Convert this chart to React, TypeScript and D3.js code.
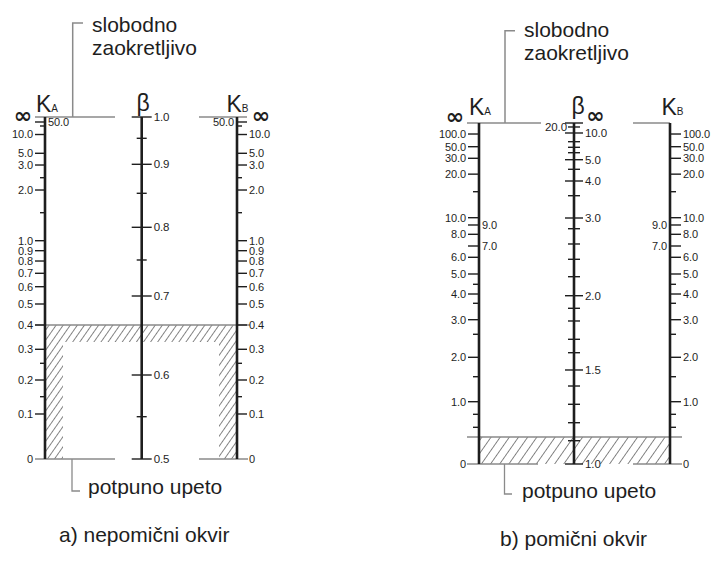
import React from 'react';
import * as d3 from 'd3';

// ---------- Panel a) nepomični okvir (braced) ----------
// K scale: tick values, labels ('' = unlabeled minor tick)
const K_A_VALUES = [0, 0.1, 0.15, 0.2, 0.25, 0.3, 0.4, 0.5, 0.6, 0.7, 0.8, 0.9, 1.0, 1.5, 2.0, 2.5, 3.0, 5.0, 10.0, 20.0, 50.0];
const K_A_LABELS = ['0', '0.1', '', '0.2', '', '0.3', '0.4', '0.5', '0.6', '0.7', '0.8', '0.9', '1.0', '', '2.0', '', '3.0', '5.0', '10.0', '', '50.0'];
// calibration of the nonlinear nomograph scale (fraction of axis length)
const K_A_CAL = [0, 0.1316, 0.1822, 0.231, 0.2798, 0.3208, 0.3918, 0.4532, 0.5038, 0.543, 0.5789, 0.6091, 0.6383, 0.7202, 0.7865, 0.8225, 0.8596, 0.8939, 0.9488, 0.9737, 0.9854];
const K_A_INNER_LABELS = ['50.0'];
const K_A_HATCH_LIMIT = 0.4;

const BETA_A_VALUES = [0.5, 0.55, 0.6, 0.7, 0.75, 0.8, 0.85, 0.9, 0.95, 1.0];
const BETA_A_LABELS = ['0.5', '', '0.6', '0.7', '', '0.8', '', '0.9', '', '1.0'];
const BETA_A_CAL = [0, 0.1237, 0.2456, 0.4766, 0.5819, 0.6775, 0.7769, 0.8617, 0.9377, 1];

// ---------- Panel b) pomični okvir (sway) ----------
const K_B_VALUES = [0, 0.4, 0.5, 0.75, 1.0, 1.5, 2.0, 2.5, 3.0, 3.5, 4.0, 4.5, 5.0, 6.0, 7.0, 8.0, 9.0, 10.0, 15.0, 20.0, 30.0, 50.0, 100.0];
const K_B_LABELS = ['0', 'x', '', '', '1.0', '', '2.0', '', '3.0', '', '4.0', '', '5.0', '6.0', '7.0', '8.0', '9.0', '10.0', '', '20.0', '30.0', '50.0', '100.0'];
const K_B_CAL = [0, 0.0792, 0.1076, 0.1457, 0.1827, 0.256, 0.3129, 0.3804, 0.4232, 0.4713, 0.4985, 0.527, 0.5572, 0.6062, 0.6393, 0.6736, 0.7009, 0.7223, 0.7985, 0.85, 0.8965, 0.9305, 0.9677];
const K_B_INNER_LABELS = ['9.0', '7.0'];
const K_B_HATCH_LIMIT = 0.4;

const BETA_B_VALUES = [1.0, 1.1, 1.2, 1.3, 1.4, 1.5, 1.6, 1.7, 1.8, 1.9, 2.0, 2.2, 2.4, 2.6, 2.8, 3.0, 3.5, 4.0, 4.5, 5.0, 6.0, 7.0, 8.0, 10.0, 20.0];
const BETA_B_LABELS = ['1.0', '', '', '', '', '1.5', '', '', '', '', '2.0', '', '', '', '', '3.0', '', '4.0', '', '5.0', '', '', '', '10.0', '20.0'];
const BETA_B_CAL = [0, 0.0683, 0.1211, 0.1751, 0.2287, 0.2757, 0.3264, 0.3657, 0.4194, 0.4566, 0.4935, 0.5493, 0.6003, 0.6452, 0.69, 0.7214, 0.7868, 0.8299, 0.8642, 0.8924, 0.9129, 0.9287, 0.9452, 0.9707, 0.9883];
const BETA_B_INNER_LABELS = ['20.0'];

const TEXT_TOP = ['slobodno', 'zaokretljivo'];
const TEXT_BOTTOM = 'potpuno upeto';
const CAPTIONS = ['a) nepomični okvir', 'b) pomični okvir'];

const FONT = '"Liberation Sans", Arial, Helvetica, sans-serif';
const DARK = '#1e1e1e';
const GRAY = '#8a8a8a';
const TICK_FS = 11;

function makeScale(values: number[], cal: number[], yBot: number, yTop: number) {
  const frac = d3.scaleLinear().domain(values).range(cal);
  const pos = d3.scaleLinear().domain([0, 1]).range([yBot, yTop]);
  return (v: number) => pos(frac(v));
}

type KAxisProps = {
  x: number; side: 'left' | 'right'; values: number[]; labels: string[];
  y: (v: number) => number; inner: string[]; majorLen: number; minorLen: number;
};

function KAxis({ x, side, values, labels, y, inner, majorLen, minorLen }: KAxisProps) {
  const dir = side === 'left' ? -1 : 1;
  return (
    <g>
      {values.map((v, i) => {
        const lab = labels[i];
        if (lab === 'x') return null;
        const yy = y(v);
        const len = lab ? majorLen : minorLen;
        const isInner = inner.includes(lab);
        const lx = isInner ? x - dir * 3 : x + dir * (majorLen + 2);
        const anchor = (side === 'left') !== isInner ? 'end' : 'start';
        return (
          <g key={i}>
            {v !== 0 && <line x1={x} x2={x + dir * len} y1={yy} y2={yy} stroke={DARK} strokeWidth={1.4} />}
            {lab && (
              <text x={lx} y={yy} dy="0.36em" fontSize={TICK_FS} textAnchor={anchor} fill={DARK} fontFamily={FONT} letterSpacing={-0.1}>
                {lab}
              </text>
            )}
          </g>
        );
      })}
    </g>
  );
}

type BAxisProps = { x: number; values: number[]; labels: string[]; y: (v: number) => number; inner: string[]; majorLen: number; minorLen: number };
function BetaAxis({ x, values, labels, y, inner, majorLen, minorLen }: BAxisProps) {
  return (
    <g>
      {values.map((v, i) => {
        const lab = labels[i];
        const yy = y(v);
        const isInner = inner.includes(lab);
        const len = lab && !isInner ? majorLen : minorLen;
        return (
          <g key={i}>
            <line x1={x - len} x2={x + len} y1={yy} y2={yy} stroke={DARK} strokeWidth={1.4} />
            {lab && (
              <text x={isInner ? x - minorLen - 1 : x + majorLen + 2} y={yy} dy="0.36em" fontSize={TICK_FS + 0.5}
                textAnchor={isInner ? 'end' : 'start'} fill={DARK} fontFamily={FONT} letterSpacing={-0.1}>
                {lab}
              </text>
            )}
          </g>
        );
      })}
    </g>
  );
}

function Title({ x, y, main, sub }: { x: number; y: number; main: string; sub?: string }) {
  return (
    <text x={x} y={y} fontSize={23} fill={DARK} fontFamily={FONT}>
      {main}
      {sub && <tspan fontSize={10}>{sub}</tspan>}
    </text>
  );
}

function Inf({ x, y }: { x: number; y: number }) {
  return (
    <text x={x} y={y} fontSize={22} fontWeight="bold" textAnchor="middle" dy="0.32em" fill={DARK} fontFamily={'"DejaVu Sans", sans-serif'}>
      ∞
    </text>
  );
}

function PanelA() {
  const xKA = 45, xB = 141.7, xKB = 237, yTop = 117, yBot = 459;
  const yK = makeScale(K_A_VALUES, K_A_CAL, yBot, yTop);
  const yBeta = makeScale(BETA_A_VALUES, BETA_A_CAL, yBot, yTop);
  const yH = yK(K_A_HATCH_LIMIT);
  const band = 17, strip = 18;
  const hatchPath = `M${xKA},${yH}H${xKB}V${yBot}H${xKB - strip}V${yH + band}H${xKA + strip}V${yBot}H${xKA}Z`;
  return (
    <g>
      <path d={hatchPath} fill="url(#hatchA)" />
      {/* reference lines */}
      <line x1={xKA - 10} x2={xKA + 70} y1={yTop} y2={yTop} stroke={GRAY} strokeWidth={1.5} />
      <line x1={xKB - 38} x2={xKB + 10} y1={yTop} y2={yTop} stroke={GRAY} strokeWidth={1.5} />
      <line x1={xKA - 10} x2={xKA + 70} y1={yBot} y2={yBot} stroke={GRAY} strokeWidth={1.5} />
      <line x1={xKB - 38} x2={xKB + 11} y1={yBot} y2={yBot} stroke={GRAY} strokeWidth={1.5} />
      <line x1={xKA - 10} x2={xKB + 13} y1={yH} y2={yH} stroke={GRAY} strokeWidth={1.3} />
      {/* axes */}
      {[xKA, xB, xKB].map((x) => (
        <line key={x} x1={x} x2={x} y1={yTop} y2={yBot} stroke={DARK} strokeWidth={2.6} />
      ))}
      <KAxis x={xKA} side="left" values={K_A_VALUES} labels={K_A_LABELS} y={yK} inner={K_A_INNER_LABELS} majorLen={10} minorLen={5} />
      <KAxis x={xKB} side="right" values={K_A_VALUES} labels={K_A_LABELS} y={yK} inner={K_A_INNER_LABELS} majorLen={10} minorLen={5} />
      <BetaAxis x={xB} values={BETA_A_VALUES} labels={BETA_A_LABELS} y={yBeta} inner={[]} majorLen={10} minorLen={5} />
      <Title x={36} y={111.5} main="K" sub="A" />
      <Title x={136.5} y={111} main="β" />
      <Title x={226.5} y={111.5} main="K" sub="B" />
      <Inf x={23} y={116} />
      <Inf x={261} y={116} />
      {/* leaders */}
      <polyline points={`72.7,${yTop} 72.7,23 83,23`} fill="none" stroke={GRAY} strokeWidth={1.5} />
      <text x={92} y={32} fontSize={21} fill={DARK} fontFamily={FONT}>{TEXT_TOP[0]}</text>
      <text x={92} y={54.5} fontSize={21} fill={DARK} fontFamily={FONT}>{TEXT_TOP[1]}</text>
      <polyline points={`72,${yBot} 72,491 80,491`} fill="none" stroke={GRAY} strokeWidth={1.3} />
      <text x={88} y={494} fontSize={21} fill={DARK} fontFamily={FONT}>{TEXT_BOTTOM}</text>
      <text x={59} y={542} fontSize={21} fill={DARK} fontFamily={FONT}>{CAPTIONS[0]}</text>
    </g>
  );
}

function PanelB() {
  const xKA = 479, xB = 574, xKB = 670, yTop = 123, yBot = 464;
  const yK = makeScale(K_B_VALUES, K_B_CAL, yBot, yTop);
  const yBeta = makeScale(BETA_B_VALUES, BETA_B_CAL, yBot, yTop);
  const yH = yK(K_B_HATCH_LIMIT);
  return (
    <g>
      <rect x={xKA} y={yH} width={xKB - xKA} height={yBot - yH} fill="url(#hatchB)" />
      <line x1={xKA - 12} x2={xKA + 62} y1={yTop} y2={yTop} stroke={GRAY} strokeWidth={1.5} />
      <line x1={xKB - 37} x2={xKB} y1={yTop} y2={yTop} stroke={GRAY} strokeWidth={1.5} />
      <line x1={xKA - 12} x2={xKA + 59} y1={yBot} y2={yBot} stroke={GRAY} strokeWidth={1.5} />
      <line x1={xKB - 37} x2={xKB + 12} y1={yBot} y2={yBot} stroke={GRAY} strokeWidth={1.5} />
      <line x1={xKA - 12} x2={xKB + 12} y1={yH} y2={yH} stroke={GRAY} strokeWidth={1.3} />
      {[xKA, xB, xKB].map((x) => (
        <line key={x} x1={x} x2={x} y1={yTop} y2={yBot} stroke={DARK} strokeWidth={2.6} />
      ))}
      <KAxis x={xKA} side="left" values={K_B_VALUES} labels={K_B_LABELS} y={yK} inner={K_B_INNER_LABELS} majorLen={11} minorLen={6} />
      <KAxis x={xKB} side="right" values={K_B_VALUES} labels={K_B_LABELS} y={yK} inner={K_B_INNER_LABELS} majorLen={11} minorLen={6} />
      <BetaAxis x={xB} values={BETA_B_VALUES} labels={BETA_B_LABELS} y={yBeta} inner={BETA_B_INNER_LABELS} majorLen={9} minorLen={6} />
      <line x1={xB - 9} x2={xB + 9} y1={yTop} y2={yTop} stroke={DARK} strokeWidth={1.4} />
      <Title x={469} y={115} main="K" sub="A" />
      <Title x={571.5} y={114} main="β" />
      <Title x={661.5} y={115} main="K" sub="B" />
      <Inf x={455} y={116.5} />
      <Inf x={595.5} y={116} />
      <polyline points={`505,${yTop} 505,30.7 515,30.7`} fill="none" stroke={GRAY} strokeWidth={1.5} />
      <text x={524} y={36.5} fontSize={21} fill={DARK} fontFamily={FONT}>{TEXT_TOP[0]}</text>
      <text x={524} y={60} fontSize={21} fill={DARK} fontFamily={FONT}>{TEXT_TOP[1]}</text>
      <polyline points={`504.5,${yBot} 504.5,494 512,494`} fill="none" stroke={GRAY} strokeWidth={1.3} />
      <text x={522} y={498} fontSize={21} fill={DARK} fontFamily={FONT}>{TEXT_BOTTOM}</text>
      <text x={500} y={546} fontSize={21} fill={DARK} fontFamily={FONT}>{CAPTIONS[1]}</text>
    </g>
  );
}

export default function App() {
  return (
    <svg width={711} height={563} style={{ position: 'absolute', left: 0, top: 0, background: '#fff' }}>
      <defs>
        <pattern id="hatchA" patternUnits="userSpaceOnUse" width={5.8} height={10} patternTransform="rotate(35)">
          <line x1={0} y1={0} x2={0} y2={10} stroke="#333" strokeWidth={1.2} />
        </pattern>
        <pattern id="hatchB" patternUnits="userSpaceOnUse" width={7.5} height={10} patternTransform="rotate(35)">
          <line x1={0} y1={0} x2={0} y2={10} stroke="#333" strokeWidth={1.2} />
        </pattern>
      </defs>
      <rect x={0} y={0} width={711} height={563} fill="#fff" />
      <PanelA />
      <PanelB />
    </svg>
  );
}
